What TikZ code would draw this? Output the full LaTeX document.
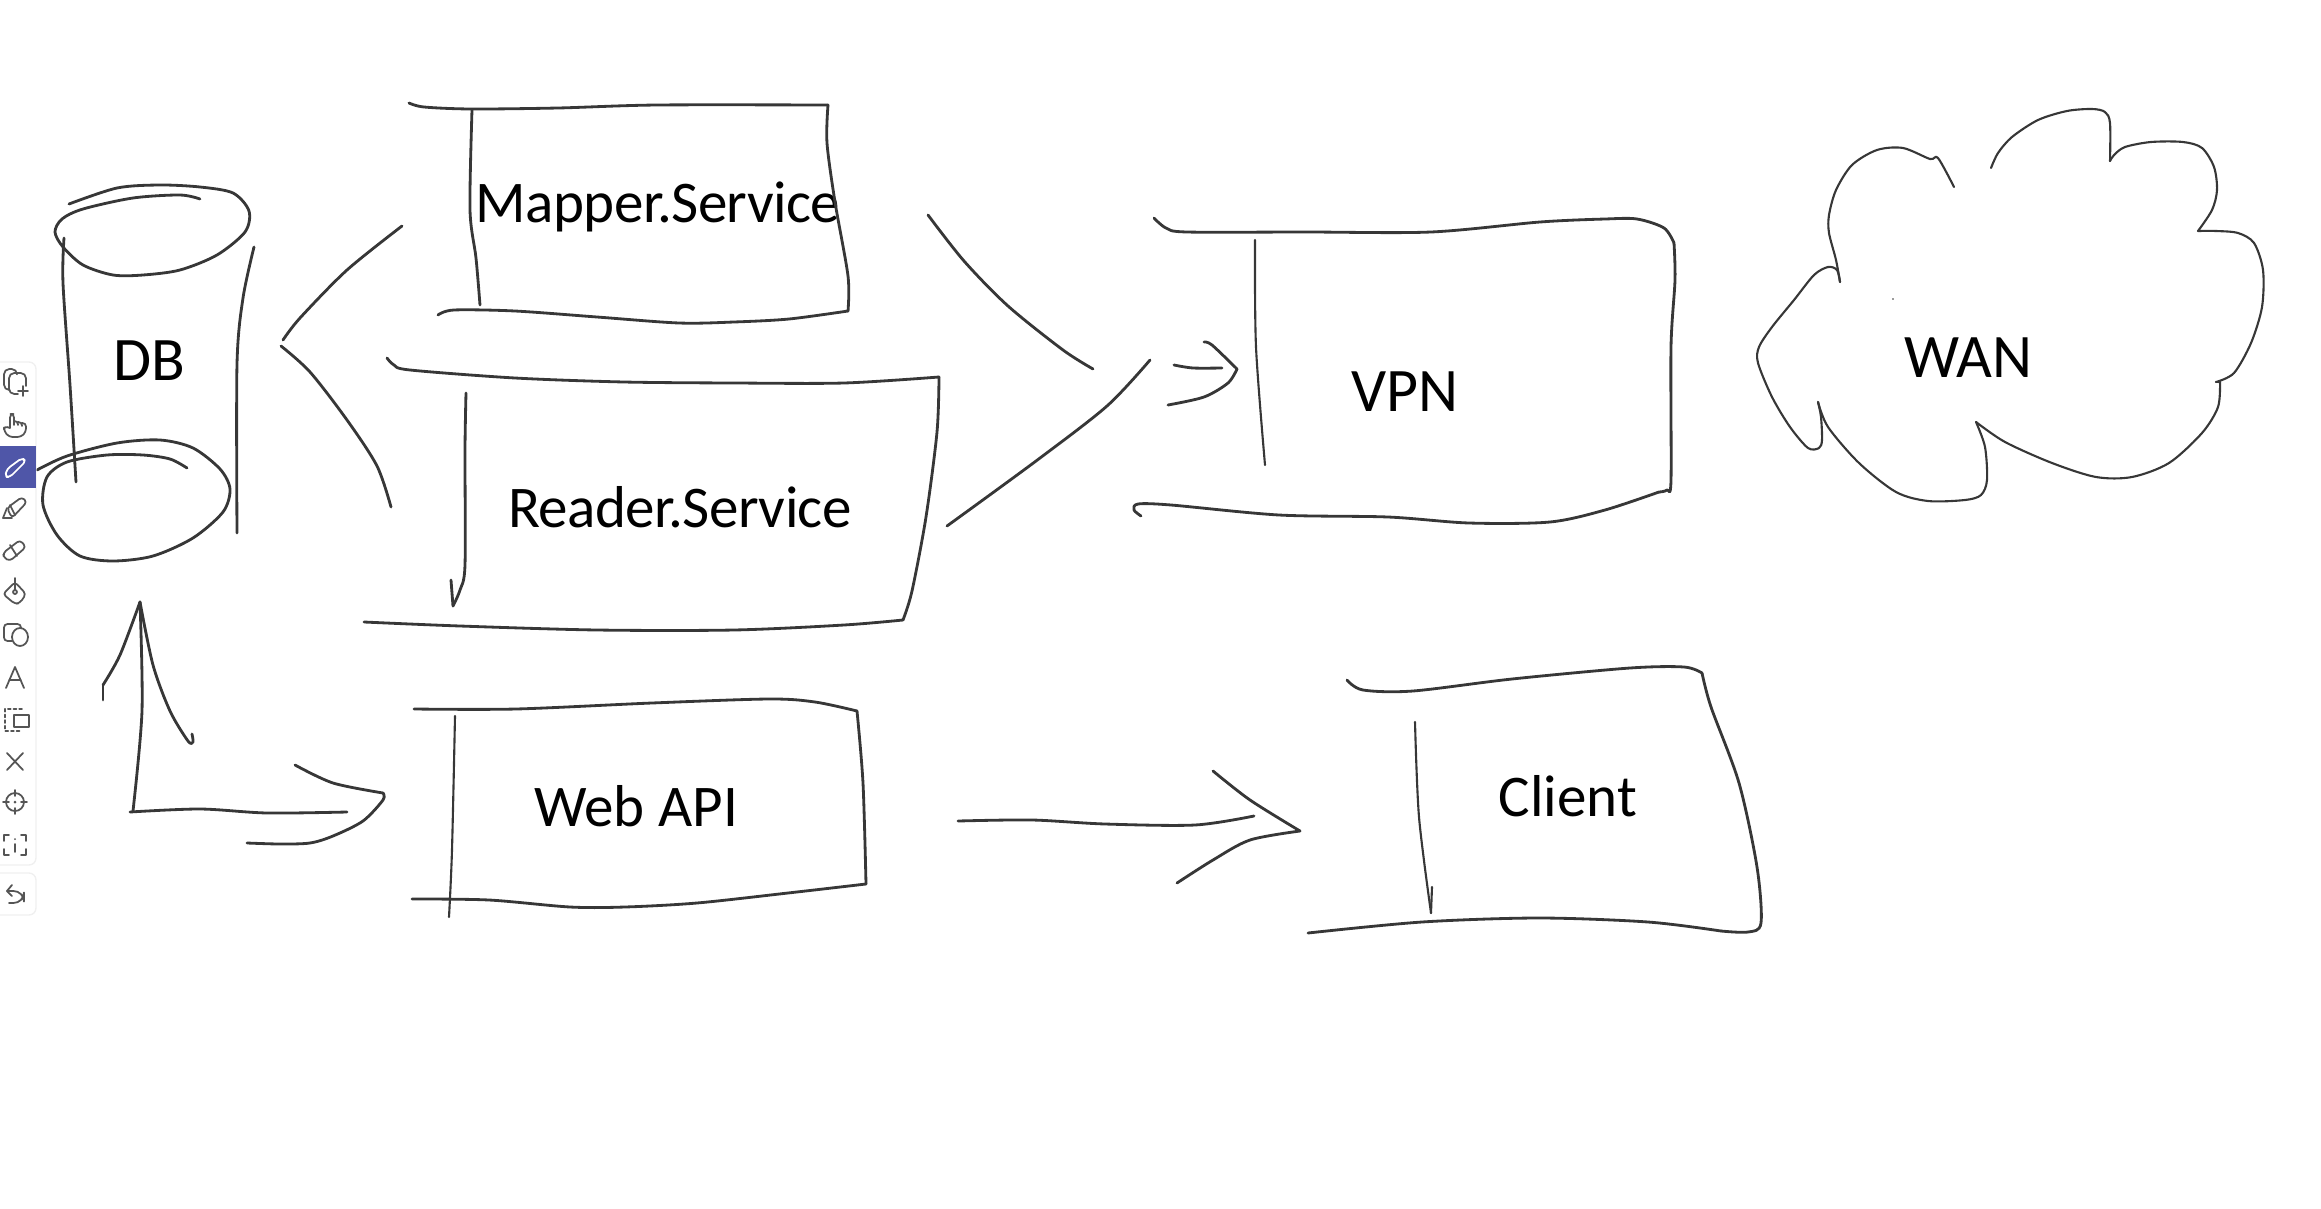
\documentclass[tikz,border=0pt]{standalone}
\usepackage{fontspec}
\setmainfont{Carlito}
\usepackage{xcolor}
\definecolor{inkcolor}{RGB}{55, 55, 55}
\definecolor{iconcolor}{RGB}{85, 85, 85}
\definecolor{panelcolor}{RGB}{240, 240, 240}
\definecolor{activecolor}{RGB}{79, 86, 168}

\begin{document}
\begin{tikzpicture}[
    x=0.01cm, y=-0.01cm,
    pen/.style={draw=inkcolor, line width=0.8pt, line cap=round, line join=round},
    thinpen/.style={pen, line width=0.6pt},
    caption/.style={anchor=base, inner sep=0pt, text=black, font=\fontsize{17.6}{20}\selectfont},
    smallcaption/.style={caption, font=\fontsize{16.8}{20}\selectfont},
    tightcaption/.style={caption, font=\fontsize{16.8}{20}\selectfont\addfontfeature{LetterSpace=-1}},
    panel/.style={draw=panelcolor, line width=0.4pt, rounded corners=2pt},
    icon/.style={draw=iconcolor, line width=0.5pt, line join=round, line cap=round},
    activeicon/.style={draw=white, line width=0.5pt, line join=round},
]
    \useasboundingbox (0,0) rectangle (2321,1209);

    % Labels
    \node[caption] (db) at (149,380) {DB};
    \node[tightcaption] (mapper) at (658,222) {Mapper.Service};
    \node[tightcaption] (reader) at (680,527) {Reader.Service};
    \node[caption] (vpn) at (1405,411) {VPN};
    \node[caption] (wan) at (1968,377) {WAN};
    \node[smallcaption] (webapi) at (636,826) {Web API};
    \node[smallcaption] (client) at (1568,816) {Client};

    % DB
    \draw[pen] plot[smooth, tension=0.5] coordinates {(69,204) (117,188) (160,185) (200,187) (233,193) (249,211) (245,232) (217,255) (180,270) (143,275) (113,275) (83,265) (63,247) (55,232) (62,219) (83,209) (133,198) (180,195) (200,199)};
    \draw[pen] plot[smooth, tension=0.5] coordinates {(64,238) (63,283) (70,385) (76,482)};
    \draw[pen] plot[smooth, tension=0.5] coordinates {(254,247) (243,298) (237,364) (237,533)};
    \draw[pen] plot[smooth, tension=0.5] coordinates {(37,470) (67,456) (117,443) (160,440) (193,448) (220,469) (230,489) (223,512) (193,538) (153,556) (113,561) (80,556) (57,535) (43,505) (47,477) (67,462) (107,455) (143,455) (170,459) (187,468)};

    % Arrow from the services to DB
    \draw[pen] plot[smooth, tension=0.5] coordinates {(402,226) (347,270) (300,318) (283,340)};
    \draw[pen] plot[smooth, tension=0.5] coordinates {(281,346) (310,372) (347,420) (377,466) (391,507)};

    % Arrow between DB and Web API
    \draw[pen] plot[smooth, tension=0.5] coordinates {(140,602) (142,711) (133,811)};
    \draw[pen] plot[smooth, tension=0.5] coordinates {(130,812) (200,809) (267,813) (347,812)};
    \draw[pen] plot coordinates {(103,700) (103,685)};
    \draw[pen] plot[smooth, tension=0.5] coordinates {(103,685) (120,655) (140,602)};
    \draw[pen] plot[smooth, tension=0.5] coordinates {(140,602) (153,665) (170,711) (188,741) (193,742) (192,734)};
    \draw[pen] plot[smooth, tension=0.5] coordinates {(295,765) (333,783) (383,793)};
    \draw[pen] plot[smooth, tension=0.5] coordinates {(383,793) (383,800) (363,821) (333,836) (310,843) (280,844) (247,843)};

    % Mapper.Service
    \draw[pen] plot[smooth, tension=0.5] coordinates {(409,103) (424,107) (471,109) (558,108) (657,105) (828,105)};
    \draw[pen] plot[smooth, tension=0.5] coordinates {(828,105) (827,143) (835,202) (848,276) (848,311)};
    \draw[pen] plot[smooth, tension=0.5] coordinates {(848,311) (789,319) (734,322) (679,323) (597,317) (515,311) (454,310) (438,315)};
    \draw[pen] plot[smooth, tension=0.5] coordinates {(472,110) (470,210) (476,258) (480,305)};

    % Reader.Service
    \draw[pen] plot[smooth, tension=0.5] coordinates {(387,358) (394,365) (410,370) (515,378) (624,382) (734,383) (844,383) (939,377)};
    \draw[pen] plot[smooth, tension=0.5] coordinates {(939,377) (937,432) (926,517) (912,591) (903,620)};
    \draw[pen] plot[smooth, tension=0.5] coordinates {(903,620) (844,625) (734,630) (597,630) (460,626) (364,622)};
    \draw[pen] plot[smooth, tension=0.5] coordinates {(466,393) (465,450) (465,565) (460,590) (453,606)};
    \draw[pen] plot coordinates {(453,606) (451,580)};

    % Arrows from the services to VPN
    \draw[pen] plot[smooth, tension=0.5] coordinates {(928,215) (964,261) (1008,306) (1063,350) (1093,369)};
    \draw[pen] plot[smooth, tension=0.5] coordinates {(1150,360) (1107,406) (1036,461) (947,526)};
    \draw[pen] plot[smooth, tension=0.5] coordinates {(1174,365) (1193,368) (1222,368)};
    \draw[pen] plot[smooth, tension=0.5] coordinates {(1204,342) (1212,345) (1237,369)};
    \draw[pen] plot[smooth, tension=0.5] coordinates {(1237,369) (1228,383) (1204,397) (1168,405)};

    % VPN
    \draw[pen] plot[smooth, tension=0.5] coordinates {(1154,218) (1166,228) (1187,232) (1306,232) (1431,232) (1540,222) (1605,219) (1637,219) (1664,228) (1674,243)};
    \draw[pen] plot[smooth, tension=0.5] coordinates {(1674,243) (1675,280) (1671,347) (1671,480) (1667,490) (1659,492)};
    \draw[pen] plot[smooth, tension=0.5] coordinates {(1659,492) (1605,510) (1550,522) (1469,523) (1388,517) (1279,515) (1171,505) (1138,504) (1134,510) (1141,516)};
    \draw[thinpen] plot[smooth, tension=0.5] coordinates {(1255,240) (1256,347) (1265,465)};

    % WAN
    \draw[thinpen] plot[smooth, tension=0.5] coordinates {(1954,187) (1938,158) (1930,159) (1903,148) (1877,150) (1852,165) (1836,190) (1829,215) (1829,233) (1836,260) (1840,282)};
    \draw[thinpen] plot[smooth, tension=0.5] coordinates {(1840,282) (1837,270) (1828,267) (1814,275) (1794,300) (1772,327) (1759,347) (1758,363) (1772,397) (1790,427) (1808,448) (1819,448) (1822,440) (1821,417) (1818,402)};
    \draw[thinpen] plot[smooth, tension=0.5] coordinates {(1818,402) (1828,427) (1859,463) (1896,492) (1928,501) (1965,500) (1981,495) (1987,480) (1985,447) (1976,422)};
    \draw[thinpen] plot[smooth, tension=0.5] coordinates {(1976,422) (2005,442) (2052,463) (2096,477) (2132,477) (2169,463) (2202,433) (2218,407) (2220,382)};
    \draw[thinpen] plot coordinates {(2220,382) (2216,382)};
    \draw[thinpen] plot[smooth, tension=0.5] coordinates {(2216,382) (2234,373) (2251,343) (2262,307) (2263,270) (2254,243) (2238,233) (2216,231) (2198,231)};
    \draw[thinpen] plot[smooth, tension=0.5] coordinates {(2198,231) (2212,210) (2217,190) (2214,167) (2202,148) (2183,142) (2151,142) (2125,147) (2114,155) (2110,161)};
    \draw[thinpen] plot[smooth, tension=0.5] coordinates {(2110,161) (2110,123) (2105,112) (2092,109) (2067,111) (2038,120) (2012,137) (1998,153) (1991,168)};
    \fill[inkcolor] (1893,299) circle (0.8);

    % Web API
    \draw[pen] plot[smooth, tension=0.5] coordinates {(414,709) (516,709) (652,703) (769,699) (815,702) (857,711)};
    \draw[pen] plot[smooth, tension=0.5] coordinates {(857,711) (863,783) (866,884)};
    \draw[pen] plot[smooth, tension=0.5] coordinates {(866,884) (788,893) (697,903) (625,907) (570,907) (489,900) (412,899)};
    \draw[thinpen] plot[smooth, tension=0.5] coordinates {(455,716) (452,850) (449,917)};

    % Arrow from Web API to Client
    \draw[pen] plot[smooth, tension=0.5] coordinates {(958,821) (1032,820) (1105,824) (1195,825) (1254,816)};
    \draw[pen] plot[smooth, tension=0.5] coordinates {(1213,771) (1250,800) (1300,831)};
    \draw[pen] plot[smooth, tension=0.5] coordinates {(1300,831) (1250,840) (1213,860) (1177,883)};

    % Client
    \draw[pen] plot[smooth, tension=0.5] coordinates {(1347,680) (1363,690) (1413,691) (1512,679) (1630,668) (1684,667) (1702,673)};
    \draw[pen] plot[smooth, tension=0.5] coordinates {(1702,673) (1711,707) (1739,783) (1757,867) (1761,923) (1748,932) (1721,931)};
    \draw[pen] plot[smooth, tension=0.5] coordinates {(1721,931) (1648,922) (1539,918) (1422,922) (1308,933)};
    \draw[thinpen] plot[smooth, tension=0.5] coordinates {(1415,722) (1419,817) (1431,913)};
    \draw[thinpen] plot coordinates {(1431,913) (1432,887)};

    % Toolbar
    \draw[panel] (-10,362) rectangle (36,865);
    \draw[panel] (-10,873) rectangle (36,915);
    \fill[activecolor] (0,446) rectangle (36,488);
    % copy and add
    \draw[icon, rounded corners=1.5pt] (9,390) -- (4,390) -- (4,369) -- (17,369) -- (17,373);
    \draw[icon, rounded corners=1.5pt] (26,386) -- (26,373) -- (9,373) -- (9,394) -- (18,394);
    \draw[icon] (23,386) -- (23,396) (18,391) -- (28,391);
    % hand
    \draw[icon, rounded corners=1pt] (10,428) -- (10,414) -- (14,414) -- (14,425) (14,421) -- (18,421) -- (18,425) (18,422) -- (22,422) -- (22,426) (22,423) -- (26,423) -- (26,432) -- (21,437) -- (9,437) -- (4,431) -- (4,426) -- (10,428);
    % pencil
    \draw[activeicon, rounded corners=1pt] (5,477) -- (7,469) -- (22,458) -- (26,461) -- (10,477) -- cycle;
    % highlighter
    \draw[icon, rounded corners=1pt] (7,508) -- (22,497) -- (27,502) -- (12,518) -- cycle;
    \draw[icon] (7,508) -- (3,518) -- (12,518) (10,505) -- (15,515);
    % eraser
    \draw[icon, rounded corners=1pt] (3,553) -- (20,540) -- (26,547) -- (10,561) -- (4,558) -- cycle;
    \draw[icon] (10,545) -- (17,556);
    % fill
    \draw[icon, rounded corners=1pt] (3,594) -- (15,582) -- (26,594) -- (20,603) -- (15,604) -- cycle;
    \draw[icon] (15,578) -- (15,590);
    \draw[icon] (15,592) circle (2);
    % shapes
    \draw[icon, rounded corners=1pt] (21,628) -- (21,624) -- (4,624) -- (4,641) -- (12,641);
    \draw[icon] (20,637) ellipse (8 and 9);
    % text
    \draw[icon] (6,688) -- (15,667) -- (24,688) (9,680) -- (21,680);
    % select
    \draw[icon, dash pattern=on 0.8pt off 0.8pt] (22,709) -- (5,709) -- (5,731) -- (22,731);
    \draw[icon] (14,715) rectangle (29,727);
    % close
    \draw[icon] (7,753) -- (23,770) (7,770) -- (23,753);
    % target
    \draw[icon] (15,802) circle (9);
    \draw[icon] (15,790) -- (15,796) (15,808) -- (15,814) (3,802) -- (9,802) (21,802) -- (27,802);
    \fill[iconcolor] (15,802) circle (1.5);
    % info
    \draw[icon] (9,835) -- (4,835) -- (4,841) (21,835) -- (26,835) -- (26,841) (4,849) -- (4,855) -- (9,855) (26,849) -- (26,855) -- (21,855);
    \draw[icon] (15,844) -- (15,852);
    \fill[iconcolor] (15,839) circle (1);
    % undo
    \draw[icon, rounded corners=3pt] (7,891) -- (24,891) -- (24,903) -- (9,903);
    \draw[icon] (12,885) -- (7,891) -- (12,896);
\end{tikzpicture}
\end{document}
